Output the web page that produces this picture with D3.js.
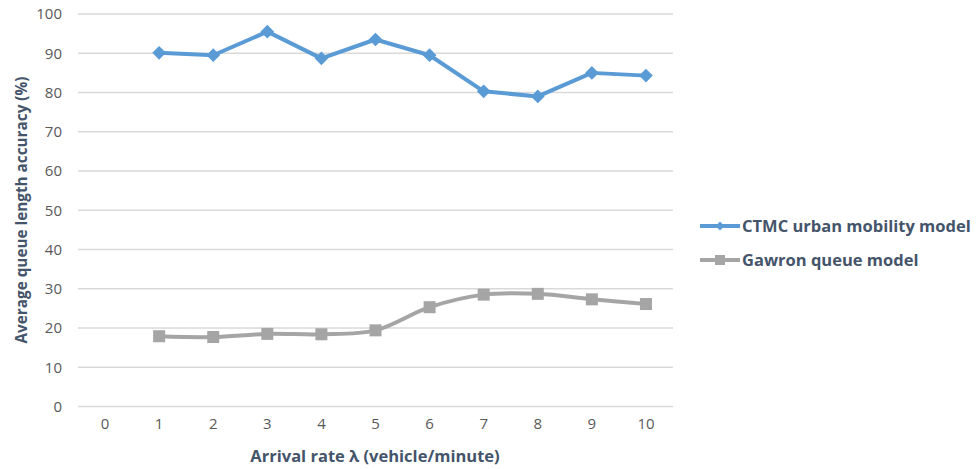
<!DOCTYPE html>
<html><head><meta charset="utf-8">
<script src="https://cdn.jsdelivr.net/npm/d3@7"></script>
<style>body{margin:0;background:#fff;} svg{display:block;font-family:"Open Sans",sans-serif;}</style>
</head><body><svg id="c" width="976" height="469"></svg>
<script>
const categories = ["0","1","2","3","4","5","6","7","8","9","10"];
const ctmcValues = [null,90.1,89.5,95.5,88.7,93.5,89.5,80.3,79.0,85.0,84.3];
const gawronValues = [null,17.9,17.7,18.5,18.4,19.4,25.3,28.5,28.7,27.3,26.1];
const yTicks = [0,10,20,30,40,50,60,70,80,90,100];
const seriesNames = ["CTMC urban mobility model","Gawron queue model"];

const svg = d3.select("#c");
const L = 78, R = 673, T = 14, B = 406.5;
const x = d3.scaleBand().domain(categories).range([L,R]);
const y = d3.scaleLinear().domain([0,100]).range([B,T]);
const cx = c => x(c) + x.bandwidth()/2;

// gridlines
svg.append("g").selectAll("line").data(yTicks).join("line")
  .attr("x1",L).attr("x2",R).attr("y1",d=>y(d)).attr("y2",d=>y(d))
  .attr("stroke","#d9d9d9").attr("stroke-width",1.5);

// y axis labels
const yAxis = svg.append("g").attr("transform",`translate(${L},0)`)
  .call(d3.axisLeft(y).tickValues(yTicks).tickSize(0).tickPadding(16));
yAxis.select(".domain").remove();
yAxis.selectAll("text").attr("fill","#595959").style("font-size","15px").style("font-family","Open Sans");

// x axis labels
const xAxis = svg.append("g").attr("transform",`translate(0,${B})`)
  .call(d3.axisBottom(x).tickSize(0).tickPadding(12));
xAxis.select(".domain").remove();
xAxis.selectAll("text").attr("fill","#595959").style("font-size","15px").style("font-family","Open Sans");

// titles
svg.append("text").attr("x",375).attr("y",462).attr("text-anchor","middle")
  .attr("fill","#44546a").style("font-weight","bold").style("font-size","16.5px")
  .text("Arrival rate λ (vehicle/minute)");
svg.append("text").attr("transform","translate(27,210) rotate(-90)").attr("text-anchor","middle")
  .attr("fill","#44546a").style("font-weight","bold").style("font-size","15.3px")
  .text("Average queue length accuracy (%)");

function data(vals){ return categories.map((c,i)=>({c,v:vals[i]})).filter(d=>d.v!=null); }

const lineLin = d3.line().x(d=>cx(d.c)).y(d=>y(d.v));
const lineSmooth = d3.line().x(d=>cx(d.c)).y(d=>y(d.v)).curve(d3.curveCatmullRom.alpha(0.5));

const blue = "#5b9bd5", gray = "#a5a5a5";
svg.append("path").datum(data(ctmcValues)).attr("d",lineLin)
  .attr("fill","none").attr("stroke",blue).attr("stroke-width",4).attr("stroke-linejoin","round");
svg.append("path").datum(data(gawronValues)).attr("d",lineSmooth)
  .attr("fill","none").attr("stroke",gray).attr("stroke-width",4).attr("stroke-linejoin","round");

const diamond = d3.symbol().type(d3.symbolDiamond2).size(120);
svg.append("g").selectAll("path").data(data(ctmcValues)).join("path")
  .attr("d",diamond).attr("transform",d=>`translate(${cx(d.c)},${y(d.v)})`)
  .attr("fill",blue);
svg.append("g").selectAll("rect").data(data(gawronValues)).join("rect")
  .attr("x",d=>cx(d.c)-6).attr("y",d=>y(d.v)-6).attr("width",12).attr("height",12)
  .attr("fill",gray);

// legend
const leg = [{n:seriesNames[0],col:blue,t:"d",yy:226},{n:seriesNames[1],col:gray,t:"s",yy:260}];
leg.forEach(e=>{
  const g = svg.append("g");
  g.append("line").attr("x1",700).attr("x2",740).attr("y1",e.yy).attr("y2",e.yy)
    .attr("stroke",e.col).attr("stroke-width",4);
  if(e.t==="d") g.append("path").attr("d",d3.symbol().type(d3.symbolDiamond2).size(50)())
    .attr("transform",`translate(720,${e.yy})`).attr("fill",e.col);
  else g.append("rect").attr("x",715).attr("y",e.yy-5).attr("width",10).attr("height",10).attr("fill",e.col);
  g.append("text").attr("x",742).attr("y",e.yy).attr("dy","0.35em")
    .attr("fill","#44546a").style("font-weight","bold").style("font-size","16.5px").text(e.n);
});
</script></body></html>
